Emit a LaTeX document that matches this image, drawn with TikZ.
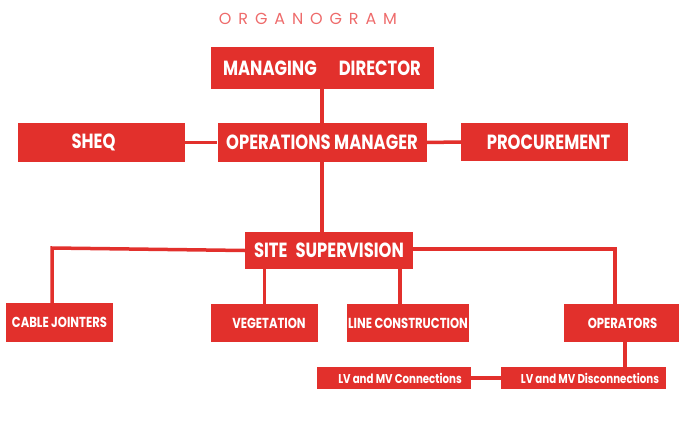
\documentclass[tikz,border=0pt]{standalone}
\usepackage{fontspec}
\newfontfamily\orgfont[FakeStretch=0.80]{Poppins}
\newfontfamily\titlefont[LetterSpace=43]{Poppins}
\usetikzlibrary{positioning}
\definecolor{orgred}{HTML}{E2302C}
\definecolor{orgtitle}{HTML}{EE6B6B}

\begin{document}
\begin{tikzpicture}[
        x=1pt, y=-1pt,
        every node/.style={align=center, anchor=center},
        unit/.style={rectangle, fill=orgred, text=white, inner sep=0pt,
                     font=\orgfont\bfseries\fontsize{20.5}{20.5}\selectfont},
        subunit/.style={unit, font=\orgfont\bfseries\fontsize{14.5}{14.5}\selectfont},
        task/.style={unit, font=\orgfont\bfseries\fontsize{12.8}{12.8}\selectfont},
        heading/.style={text=orgtitle, font=\titlefont\fontsize{16}{16}\selectfont},
        link/.style={draw=orgred, line width=3.5pt}
    ]
        \useasboundingbox (0,0) rectangle (696,441);

        \node[heading] (title) at (308,18.5) {ORGANOGRAM};

        \node[unit, minimum width=223pt, minimum height=42pt] (md) at (322,68)
            {MANAGING\hspace{22pt}DIRECTOR};
        \node[unit, minimum width=209pt, minimum height=39pt] (om) at (322,142.5)
            {OPERATIONS MANAGER};
        \node[unit, minimum width=167pt, minimum height=39pt] (sheq) at (101.5,142.5)
            {SHEQ\hspace*{16pt}};
        \node[unit, minimum width=167pt, minimum height=38pt] (proc) at (544.5,142)
            {\hspace*{8pt}PROCUREMENT};

        \node[unit, minimum width=168pt, minimum height=37pt] (ss) at (329,250.5)
            {SITE\hspace{8pt}SUPERVISION};

        \node[subunit, minimum width=107pt, minimum height=39pt] (cj) at (59.5,322.5)
            {CABLE JOINTERS};
        \node[subunit, minimum width=107pt, minimum height=38pt] (veg) at (264.5,323)
            {\hspace*{9pt}VEGETATION};
        \node[subunit, minimum width=122pt, minimum height=38pt] (lc) at (408,323)
            {LINE CONSTRUCTION};
        \node[subunit, minimum width=115pt, minimum height=38pt] (ops) at (621.5,323)
            {\hspace*{2pt}OPERATORS};

        \node[task, minimum width=154pt, minimum height=22pt] (lvc) at (394,378)
            {\hspace*{12pt}LV and MV Connections};
        \node[task, minimum width=165pt, minimum height=22pt] (lvd) at (583.5,378)
            {\hspace*{13pt}LV and MV Disconnections};

        % bends of the side branches
        \coordinate (cjbend) at (52,248);
        \coordinate (opsbend) at (615,249);

        \draw[link] (md.south) -- (md.south |- om.north);
        \draw[link] (sheq.east) -- (om.west);
        \draw[link] (om.east) -- (proc.west);
        \draw[link] (om.south) -- (om.south |- ss.north);

        \draw[link] (ss.west) -- (cjbend) -- (cjbend |- cj.north);
        \draw[link] (veg.north |- ss.south) -- (veg.north);
        \draw[link] ([xshift=-8pt]lc.north |- ss.south) -- ([xshift=-8pt]lc.north);
        \draw[link] (ss.east |- opsbend) -- (opsbend) -- (opsbend |- ops.north);

        \draw[link] ([xshift=3.5pt]ops.south) -- ([xshift=3.5pt]ops.south |- lvd.north);
        \draw[link] (lvc.east) -- (lvd.west);
    \end{tikzpicture}
\end{document}
